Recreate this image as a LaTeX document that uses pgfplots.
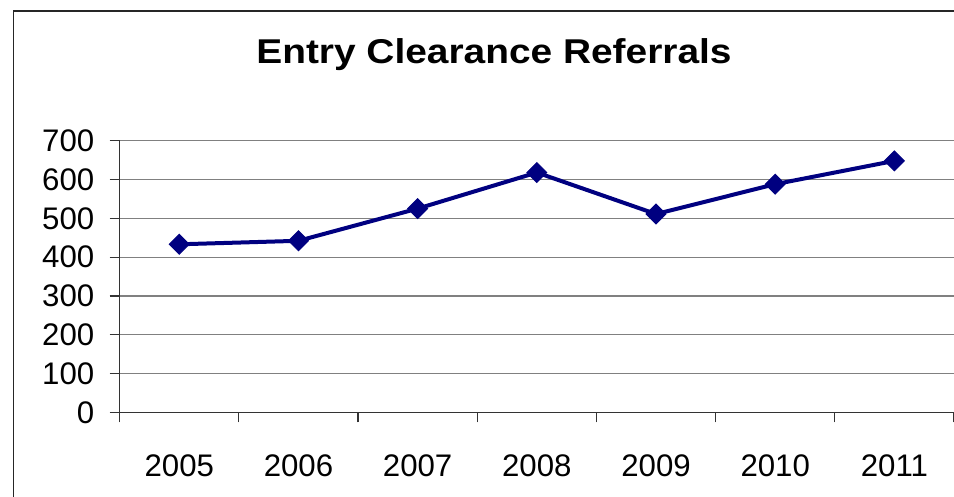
\documentclass[border=0pt]{standalone}
\usepackage{fontspec}
\setmainfont{Liberation Sans}
\usepackage{graphicx}
\usepackage{pgfplots}
\pgfplotsset{compat=1.18}
\definecolor{navyline}{HTML}{000080}
\definecolor{gridgray}{HTML}{808080}

\begin{document}
\begin{tikzpicture}
% picture box: 954 x 497 px at 0.5pt per px, axis origin at plot lower-left
\useasboundingbox (-59.85pt,-42.35pt) rectangle (417.15pt,206.15pt);
\draw[line width=0.8pt, black!85] (-53pt,-42.35pt) -- (-53pt,200.65pt) -- (417.15pt,200.65pt);
\node[anchor=base, font=\fontsize{17.2}{20}\selectfont\bfseries] at (187.15pt,174.5pt)
  {\scalebox{1.13}[1]{Entry Clearance Referrals}};
\begin{axis}[
  scale only axis,
  width=417.15pt, height=135.8pt,
  at={(0pt,0pt)},
  xmin=-0.5, xmax=6.5, ymin=0, ymax=700,
  axis x line*=bottom, axis y line*=left,
  axis line style={-, black!80, line width=0.6pt},
  xtick={0,...,6},
  xticklabels={2005,2006,2007,2008,2009,2010,2011},
  minor xtick={-0.5,0.5,...,6.5},
  ytick={0,100,...,700},
  tick align=outside,
  major tick length=5pt, minor tick length=5pt,
  x tick style={draw=none},
  minor x tick style={draw=black!80, line width=0.6pt},
  y tick style={black!80, line width=0.6pt},
  ymajorgrids,
  major grid style={gridgray, line width=0.6pt},
  ticklabel style={font=\fontsize{15.6}{18}\selectfont},
  /pgf/number format/assume math mode=true,
  yticklabel style={xshift=-4.2pt},
  xticklabel style={yshift=-12.7pt},
  clip=false,
]
\addplot[navyline, line width=2pt, mark=square*,
  mark size=3.5pt, mark options={rotate=45, fill=navyline, line width=0.5pt}]
  coordinates {(0,433) (1,442) (2,525) (3,618) (4,511) (5,588) (6,648)};
\end{axis}
\end{tikzpicture}
\end{document}
